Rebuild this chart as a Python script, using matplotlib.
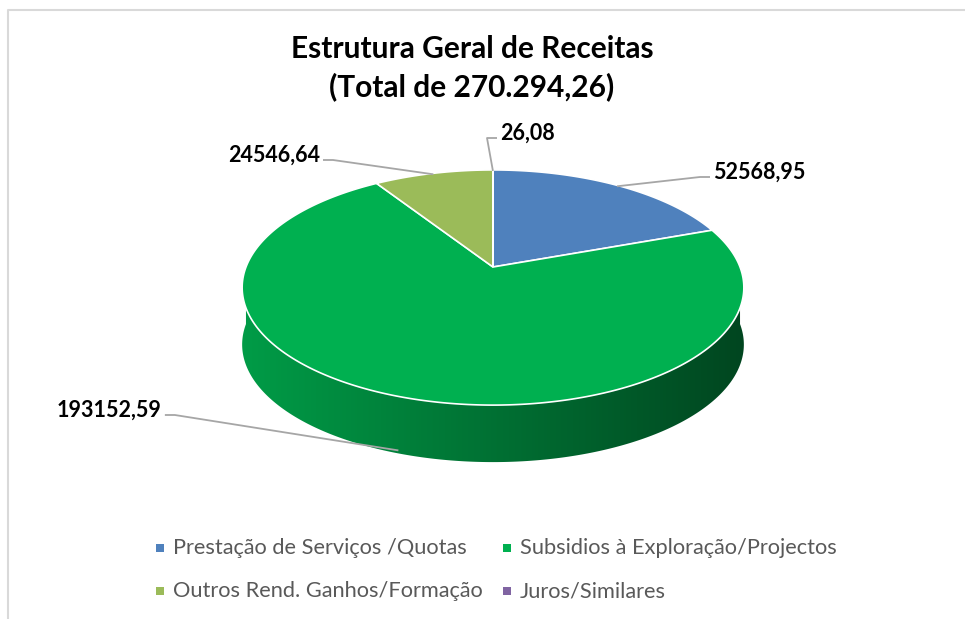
import numpy as np
import matplotlib
matplotlib.use('Agg')
import matplotlib.pyplot as plt
from matplotlib.patches import Polygon
from matplotlib.colors import to_rgb

# data
categories = ['Prestação de Serviços /Quotas', 'Subsidios à Exploração/Projectos',
              'Outros Rend. Ganhos/Formação', 'Juros/Similares']
values = [52568.95, 193152.59, 24546.64, 26.08]
value_labels = ['52568,95', '193152,59', '24546,64', '26,08']
colours = ['#4F81BD', '#00B050', '#9BBB59', '#8064A2']
title = 'Estrutura Geral de Receitas\n(Total de 270.294,26)'

# layout (pixels, y down)
W, H = 965, 619
cx, cy = 493, 267          # apex of the pie on screen
rx, ry = 247, 114          # projected radii
persp = 0.1745             # perspective factor (far side smaller)
depth = 57                 # thickness of the pie

fig = plt.figure(figsize=(W / 100, H / 100), dpi=100)
ax = fig.add_axes([0, 0, 1, 1])
ax.set_xlim(0, W)
ax.set_ylim(H, 0)
ax.axis('off')

font = 'Lato'


def proj(theta):
    t = np.radians(theta)
    x, y = np.cos(t), np.sin(t)
    d = 1 + persp * y
    return cx + rx * x / d, cy - ry * y / d


# angles: start at 12 o'clock, clockwise
total = sum(values)
spans = [v / total * 360 for v in values]
starts = []
a = 90.0
for s in spans:
    starts.append(a)
    a -= s

# side wall (front half only), horizontal gradient clipped to each slice's wall
for st, sp, col in zip(starts, spans, colours):
    lo = st - sp
    th = np.linspace(st, lo, max(int(sp * 4), 2))
    sel = np.sin(np.radians(th)) < 0
    if sel.sum() < 2:
        continue
    th = th[sel]
    xs, ys = proj(th)
    pts = list(zip(xs, ys)) + list(zip(xs[::-1], ys[::-1] + depth))
    poly = Polygon(pts, closed=True, facecolor='none', edgecolor='none')
    ax.add_patch(poly)
    base = np.array(to_rgb(col))
    gx = np.linspace(cx - rx * 1.05, cx + rx * 1.05, 300)
    f = 0.64 - 0.24 * (gx - cx) / rx
    img = np.clip(base[None, None, :] * f[None, :, None], 0, 1)
    img = np.repeat(img, 2, axis=0)
    im = ax.imshow(img, extent=[gx[0], gx[-1], cy + ry * 2, cy - ry * 0.5],
                   aspect='auto', interpolation='bilinear', zorder=1)
    im.set_clip_path(poly)

# top surface
for st, sp, col in zip(starts, spans, colours):
    th = np.linspace(st, st - sp, max(int(sp * 3), 2))
    xs, ys = proj(th)
    pts = [(cx, cy)] + list(zip(xs, ys))
    ax.add_patch(Polygon(pts, closed=True, facecolor=col, edgecolor='white', lw=1.2, zorder=2))

# data labels with leader lines
label_pos = [(713, 172), (57, 410), (228, 155), (500, 133)]
for st, sp, lab, (lx, ly) in zip(starts, spans, value_labels, label_pos):
    mid = st - sp / 2
    axp, ayp = proj(mid)
    if np.sin(np.radians(mid)) < 0:
        ayp += depth - 3
    else:
        ayp += 1
    txt = ax.text(lx, ly, lab, fontsize=15.5, fontweight='bold', family=font,
                  ha='left', va='center', color='black', zorder=3)
    fig.canvas.draw()
    bb = txt.get_window_extent().transformed(ax.transData.inverted())
    x0, x1 = min(bb.x0, bb.x1), max(bb.x0, bb.x1)
    if axp > x1:
        ex = x1 + 3
        pts = [(ex, ly + 5), (ex + 10, ly + 5), (axp, ayp)]
    elif axp < x0:
        ex = x0 - 3
        pts = [(ex, ly + 5), (ex - 10, ly + 5), (axp, ayp)]
    else:
        pts = [(x0, ly + 9), (axp + 1, ly + 9), (axp, ayp)]
    px, py = zip(*pts)
    ax.plot(px, py, color='#A6A6A6', lw=1.3, solid_capstyle='butt', zorder=3)

# title
ax.text(472, 68, title, fontsize=21.5, fontweight='bold', family=font,
        ha='center', va='center', linespacing=1.4, color='black')

# legend
leg_x = [160, 507]
leg_y = [548, 591]
for i, (cat, col) in enumerate(zip(categories, colours)):
    lx = leg_x[i % 2]
    ly = leg_y[i // 2]
    ax.add_patch(Polygon([(lx - 4, ly - 4), (lx + 4, ly - 4), (lx + 4, ly + 4), (lx - 4, ly + 4)],
                         closed=True, facecolor=col, edgecolor='none'))
    ax.text(lx + 13, ly, cat, fontsize=15.7, family=font, ha='left', va='center', color='#595959')

# chart frame
ax.plot([8, 8, W], [H, 10, 10], color='#D9D9D9', lw=1.5)

plt.savefig('out.png', dpi=100)
